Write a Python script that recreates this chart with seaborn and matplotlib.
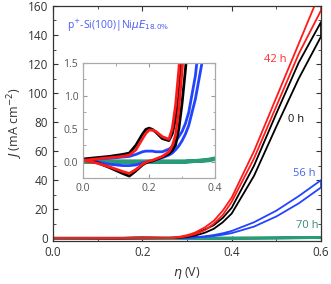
import numpy as np
import pandas as pd
import matplotlib
matplotlib.use('Agg')
import matplotlib.pyplot as plt
import seaborn as sns
from matplotlib.ticker import MultipleLocator, FormatStrFormatter

# overpotential grid of the forward scan (reverse scan uses it backwards)
eta_fwd = [0.00, 0.04, 0.08, 0.12, 0.14, 0.16, 0.18, 0.19, 0.20, 0.21, 0.22, 0.24, 0.26, 0.27, 0.28,
           0.29, 0.30, 0.31, 0.32, 0.34, 0.36, 0.38, 0.40, 0.45, 0.50, 0.55, 0.60]
eta_rev = eta_fwd[::-1]

# current density, mA cm-2
j_0h_fwd = [0.04, 0.06, 0.08, 0.11, 0.13, 0.25, 0.42, 0.49, 0.51, 0.49, 0.45, 0.35, 0.32, 0.42, 0.65,
            1.0, 1.6, 2.4, 3.4, 6, 9, 14, 21, 50, 86, 121, 149]
j_0h_rev = [139, 110, 77, 43, 17, 11, 6.5, 3.8, 2.0, 1.4, 0.9, 0.5,
            0.25, 0.17, 0.12, 0.07, 0.03, 0.01, 0.0, -0.02, -0.05, -0.14, -0.22, -0.18, -0.09, -0.01, 0.03]
j_42h_fwd = [0.02, 0.04, 0.06, 0.08, 0.10, 0.18, 0.35, 0.43, 0.48, 0.48, 0.46, 0.38, 0.34, 0.50, 0.85,
             1.4, 2.1, 3.0, 4.2, 7.5, 12, 19, 28, 60, 97, 134, 171]
j_42h_rev = [157, 127, 91, 55, 25, 16, 10, 5.5, 3.0, 2.1, 1.4, 0.8,
             0.4, 0.24, 0.15, 0.08, 0.04, 0.02, 0.01, -0.01, -0.04, -0.12, -0.18, -0.15, -0.08, -0.02, 0.02]
j_56h_fwd = [0.03, 0.04, 0.05, 0.07, 0.08, 0.11, 0.15, 0.16, 0.16, 0.16, 0.15, 0.15, 0.19, 0.23, 0.30,
             0.38, 0.46, 0.58, 0.75, 1.3, 2.2, 3.4, 5.0, 11, 19, 29, 40]
j_56h_rev = [35, 24, 15, 8, 3.5, 2.4, 1.5, 0.95, 0.55, 0.42, 0.32, 0.24,
             0.18, 0.13, 0.10, 0.06, 0.03, 0.01, 0.0, -0.01, -0.02, -0.05, -0.06, -0.06, -0.04, 0.0, 0.02]
j_70h_fwd = [0.0, 0.0, 0.0, 0.0, 0.0, 0.0, 0.0, 0.0, 0.0, 0.0, 0.0, 0.0, 0.0, 0.0, 0.0,
             0.0, 0.0, 0.0, 0.01, 0.01, 0.02, 0.03, 0.05, 0.1, 0.2, 0.35, 0.5]
j_70h_rev = [0.4, 0.3, 0.15, 0.08, 0.04, 0.02, 0.01, 0.01, 0.0, 0.0, 0.0, 0.0,
             0.0, 0.0, 0.0, 0.0, 0.0, 0.0, 0.0, 0.0, 0.0, 0.0, 0.0, 0.0, 0.0, 0.0, 0.0]

series = ['70 h', '56 h', '0 h', '42 h']
colors = {'0 h': '#000000', '42 h': '#ff1a1a', '56 h': '#2244ff', '70 h': '#2a9a78'}
label_colors = {'0 h': '#111111', '42 h': '#ff2a2a', '56 h': '#4a62f0', '70 h': '#3a8a76'}

curves = {
    '0 h': (j_0h_fwd, j_0h_rev),
    '42 h': (j_42h_fwd, j_42h_rev),
    '56 h': (j_56h_fwd, j_56h_rev),
    '70 h': (j_70h_fwd, j_70h_rev),
}

rows = []
for s in series:
    fwd, rev = curves[s]
    for e, j in zip(eta_fwd + eta_rev, fwd + rev):
        rows.append({'series': s, 'eta': e, 'J': j})
df = pd.DataFrame(rows)

sns.set_style('ticks')
plt.rcParams['font.family'] = ['Open Sans', 'DejaVu Sans']
plt.rcParams['mathtext.fontset'] = 'dejavusans'

fig = plt.figure(figsize=(3.31, 2.84), dpi=100)
ax = fig.add_axes([0.160, 0.151, 0.810, 0.828])

sns.lineplot(data=df, x='eta', y='J', hue='series', palette=colors, sort=False,
             estimator=None, legend=False, linewidth=1.3, ax=ax)
for line in ax.lines:
    if line.get_color() == '#2a9a78':
        line.set_linewidth(2.0)

ax.set_xlim(0, 0.6)
ax.set_ylim(-2, 160)
ax.xaxis.set_major_locator(MultipleLocator(0.2))
ax.xaxis.set_minor_locator(MultipleLocator(0.1))
ax.yaxis.set_major_locator(MultipleLocator(20))
ax.yaxis.set_minor_locator(MultipleLocator(10))
ax.xaxis.set_major_formatter(FormatStrFormatter('%.1f'))
ax.tick_params(which='both', direction='in', top=True, right=True,
               labelsize=8.5, colors='#333333', labelcolor='#333333')
ax.tick_params(which='major', length=3.5)
ax.tick_params(which='minor', length=2)
for sp in ax.spines.values():
    sp.set_color('#333333')
    sp.set_linewidth(0.9)
ax.set_xlabel(r'$\eta$ (V)', fontsize=9, color='#333333')
ax.set_ylabel(r'$J$ (mA cm$^{-2}$)', fontsize=9, color='#333333', labelpad=2)

ax.text(0.497, 123, '42 h', color=label_colors['42 h'], fontsize=8, ha='center', va='center')
ax.text(0.544, 82, '0 h', color=label_colors['0 h'], fontsize=8, ha='center', va='center')
ax.text(0.562, 44.5, '56 h', color=label_colors['56 h'], fontsize=8, ha='center', va='center')
ax.text(0.569, 9, '70 h', color=label_colors['70 h'], fontsize=8, ha='center', va='center')
ax.text(0.031, 146, r'p$^{+}$-Si(100)|Ni$\mu E_{18.0\%}$', color='#4a5cf5',
        fontsize=7.5, ha='left', va='center')

# inset with the low-current region
axin = fig.add_axes([0.251, 0.373, 0.399, 0.405])
sns.lineplot(data=df, x='eta', y='J', hue='series', palette=colors, sort=False,
             estimator=None, legend=False, linewidth=2.0, ax=axin)
for line in axin.lines:
    if line.get_color() == '#2a9a78':
        line.set_linewidth(2.8)
axin.set_xlim(0, 0.4)
axin.set_ylim(-0.25, 1.5)
axin.xaxis.set_major_locator(MultipleLocator(0.2))
axin.xaxis.set_minor_locator(MultipleLocator(0.1))
axin.yaxis.set_major_locator(MultipleLocator(0.5))
axin.yaxis.set_minor_locator(MultipleLocator(0.25))
axin.xaxis.set_major_formatter(FormatStrFormatter('%.1f'))
axin.yaxis.set_major_formatter(FormatStrFormatter('%.1f'))
axin.tick_params(which='both', direction='in', top=True, right=True,
                 labelsize=7.5, colors='#999999', labelcolor='#555555')
axin.tick_params(which='major', length=3)
axin.tick_params(which='minor', length=1.8)
for sp in axin.spines.values():
    sp.set_color('#aaaaaa')
    sp.set_linewidth(0.9)
axin.set_xlabel('')
axin.set_ylabel('')

fig.savefig('out.png', dpi=100)
